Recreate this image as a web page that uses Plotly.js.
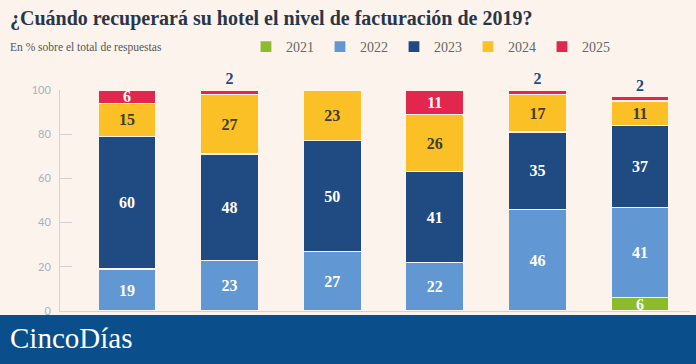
<!DOCTYPE html>
<html>
<head>
<meta charset="utf-8">
<script src="https://cdn.plot.ly/plotly-3.0.1.min.js"></script>
<style>html,body{margin:0;padding:0;background:#fcf4ec;}#chart{width:696px;height:364px;}</style>
</head>
<body>
<div id="chart"></div>
<script>
const categories = ['A', 'B', 'C', 'D', 'E', 'F'];
const seriesNames = ['2021', '2022', '2023', '2024', '2025'];
const v2021 = [null, null, null, null, null, 6];
const v2022 = [19, 23, 27, 22, 46, 41];
const v2023 = [60, 48, 50, 41, 35, 37];
const v2024 = [15, 27, 23, 26, 17, 11];
const v2025 = [6, 2, null, 11, 2, 2];
const yTicks = [0, 20, 40, 60, 80, 100];

const colors = ['#8cbb2b', '#6197d2', '#1f4a82', '#fac025', '#e2264d'];
const insideColors = ['#ffffff', '#ffffff', '#ffffff', '#403c30', '#ffffff'];
const allSeries = [v2021, v2022, v2023, v2024, v2025];
const serif = 'Liberation Serif, DejaVu Serif, serif';

const traces = allSeries.map((vals, i) => ({
  type: 'bar',
  name: seriesNames[i],
  x: categories,
  y: vals,
  width: 0.565,
  marker: {color: colors[i], line: {color: '#fcf4ec', width: 1.2}},
  text: vals.map(v => (v ? String(v) : '')),
  textposition: vals.map(v => (i === 4 && v !== null && v < 5) ? 'outside' : 'inside'),
  textangle: 0,
  insidetextanchor: 'middle',
  insidetextfont: {family: serif, size: 16, color: insideColors[i], weight: 'bold'},
  outsidetextfont: {family: serif, size: 16, color: '#1f4a82', weight: 'bold'},
  textfont: {family: serif, size: 16, weight: 'bold'},
  constraintext: 'none',
  cliponaxis: false,
  hoverinfo: 'skip'
}));

const layout = {
  width: 696, height: 364,
  paper_bgcolor: '#fcf4ec', plot_bgcolor: '#fcf4ec',
  margin: {l: 60, r: 6, t: 90, b: 53},
  barmode: 'stack',
  showlegend: true,
  legend: {
    orientation: 'h', x: 0.2952, y: 1.1946, xanchor: 'left', yanchor: 'middle',
    font: {family: serif, size: 14, color: '#666666'},
    bgcolor: 'rgba(0,0,0,0)', traceorder: 'normal',
    entrywidth: 29, entrywidthmode: 'pixels', itemclick: false
  },
  xaxis: {
    type: 'category', range: [-0.653, 5.487], showticklabels: false, ticks: '',
    showline: true, linecolor: '#d3d3d6', linewidth: 1, showgrid: false, zeroline: false, fixedrange: true
  },
  yaxis: {
    range: [0, 100], tickvals: yTicks, ticks: 'inside', ticklen: 12, tickcolor: '#d3d3d6',
    showline: true, linecolor: '#d3d3d6', linewidth: 1, showgrid: false, zeroline: false,
    tickfont: {family: 'Lato, sans-serif', size: 11, color: '#a3b1c2'}, ticklabelstandoff: 6, fixedrange: true
  },
  title: {
    text: '¿Cuándo recuperará su hotel el nivel de facturación de 2019?',
    font: {family: serif, size: 20, color: '#2a3648', weight: 'bold'},
    xref: 'container', yref: 'container', x: 10 / 696, xanchor: 'left', y: 1 - 18 / 364, yanchor: 'middle'
  },
  shapes: [{
    type: 'rect', xref: 'paper', yref: 'paper', x0: -0.1, x1: 1.02, y0: -0.018, y1: -0.25,
    fillcolor: '#0a4f8b', line: {width: 0}, layer: 'above'
  }],
  annotations: [
    {text: 'En % sobre el total de respuestas', xref: 'paper', yref: 'paper', x: -0.0825, y: 1.194,
     xanchor: 'left', yanchor: 'middle', showarrow: false, font: {family: serif, size: 11.5, color: '#555555'}},
    {text: 'CincoDías', xref: 'paper', yref: 'paper', x: -0.0825, y: -0.12,
     xanchor: 'left', yanchor: 'middle', showarrow: false, font: {family: serif, size: 29, color: '#ffffff'}}
  ]
};

Plotly.newPlot('chart', traces, layout, {displayModeBar: false, staticPlot: true});
</script>
</body>
</html>
